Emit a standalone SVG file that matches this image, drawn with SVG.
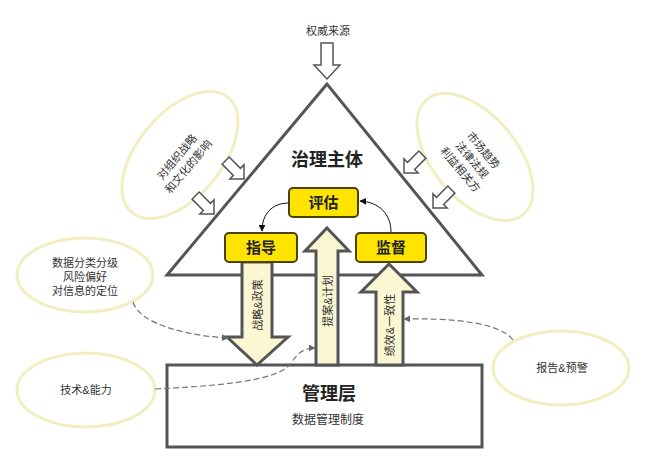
<svg xmlns="http://www.w3.org/2000/svg" width="645" height="472" viewBox="0 0 645 472">
<defs>
<style>
text{font-family:"Liberation Sans","Noto Sans CJK SC",sans-serif;fill:#333;text-anchor:middle;}
.sm{font-size:11px;}
.bx{fill:#FFE400;stroke:#4a4300;stroke-width:2;}
.bt{font-size:15px;font-weight:bold;fill:#222;}
.big{font-size:18px;font-weight:bold;fill:#222;}
.frame{fill:#fff;stroke:#555;stroke-width:3;}
.fat{fill:#FBF7D2;stroke:#555;stroke-width:3;stroke-linejoin:miter;}
.hol{fill:#fff;stroke:#555;stroke-width:1.5;}
.ell{fill:none;stroke:#F3EEC2;stroke-width:3;}
.dash{fill:none;stroke:#777;stroke-width:1.2;stroke-dasharray:6 3;}
.cur{fill:none;stroke:#111;stroke-width:1;}
</style>
<marker id="ah" viewBox="0 0 10 10" refX="9" refY="5" markerWidth="7" markerHeight="7" orient="auto" markerUnits="userSpaceOnUse">
<path d="M0,0 L10,5 L0,10 Z" fill="#111"/>
</marker>
<marker id="ahg" viewBox="0 0 10 10" refX="9" refY="5" markerWidth="7" markerHeight="7" orient="auto" markerUnits="userSpaceOnUse">
<path d="M0,0 L10,5 L0,10 Z" fill="#666"/>
</marker>
<path id="sarrow" d="M0,0 L10,-10 L5,-10 L5,-26 L-5,-26 L-5,-10 L-10,-10 Z"/>
</defs>
<rect width="645" height="472" fill="#fff"/>

<g id="ellipses">
<g id="e-culture"><ellipse class="ell" cx="180" cy="155" rx="75" ry="42" transform="rotate(-50 180 155)"/>
<text class="sm" transform="translate(183 162) rotate(-50)"><tspan x="0" y="-4">对组织战略</tspan><tspan x="0" y="11">和文化的影响</tspan></text></g>
<g id="e-market"><ellipse class="ell" cx="475" cy="157" rx="75" ry="42" transform="rotate(50 475 157)"/>
<text class="sm" transform="translate(472 160) rotate(50)"><tspan x="0" y="-11">市场趋势</tspan><tspan x="0" y="4">法律法规</tspan><tspan x="0" y="19">利益相关方</tspan></text></g>
<g id="e-data"><ellipse class="ell" cx="85" cy="275" rx="68" ry="37"/>
<text class="sm"><tspan x="85" y="267">数据分类分级</tspan><tspan x="85" y="281">风险偏好</tspan><tspan x="85" y="295">对信息的定位</tspan></text></g>
<g id="e-tech"><ellipse class="ell" cx="86" cy="390" rx="69" ry="37"/>
<text class="sm" x="86" y="394">技术&amp;能力</text></g>
<g id="e-report"><ellipse class="ell" cx="561" cy="368" rx="68" ry="37"/>
<text class="sm" x="562" y="372">报告&amp;预警</text></g>
</g>

<g id="authority">
<text class="sm" x="328" y="35">权威来源</text>
<path class="hol" d="M321,43 L333,43 L333,65 L340,65 L327,79 L314,65 L321,65 Z"/>
</g>

<g id="governance">
<polygon class="frame" points="327,84 167,275 482,275"/>
<text class="big" x="327" y="166">治理主体</text>
</g>

<g id="side-arrows">
<use href="#sarrow" class="hol" transform="translate(244 179) rotate(-45)"/>
<use href="#sarrow" class="hol" transform="translate(214 214) rotate(-45)"/>
<use href="#sarrow" class="hol" transform="translate(404 173) rotate(45)"/>
<use href="#sarrow" class="hol" transform="translate(433 208) rotate(45)"/>
</g>

<g id="management">
<rect class="frame" x="167" y="365" width="315" height="82"/>
<text class="big" x="329" y="400">管理层</text>
<text x="328" y="424" style="font-size:12px">数据管理制度</text>
</g>

<g id="flow-arrows">
<g id="a-strategy"><path class="fat" d="M242,262 L272,262 L272,337 L288,337 L257,365 L227,337 L242,337 Z"/>
<text class="sm" transform="translate(258 305) rotate(-90)" y="4">战略&amp;政策</text></g>
<g id="a-proposal"><path class="fat" d="M327,228 L349,251 L338,251 L338,365 L316,365 L316,251 L305,251 Z"/>
<text class="sm" transform="translate(328 301) rotate(-90)" y="4">提案&amp;计划</text></g>
<g id="a-perf"><path class="fat" d="M389,264 L417,292 L403,292 L403,365 L376,365 L376,292 L361,292 Z"/>
<text class="sm" transform="translate(390 325) rotate(-90)" y="4">绩效&amp;一致性</text></g>
</g>

<g id="eval"><rect class="bx" x="289" y="188" width="69" height="29" rx="4"/><text class="bt" x="323.5" y="208">评估</text></g>
<g id="direct"><rect class="bx" x="225" y="233" width="72" height="29" rx="4"/><text class="bt" x="261" y="253">指导</text></g>
<g id="monitor"><rect class="bx" x="356" y="233" width="70" height="29" rx="4"/><text class="bt" x="391" y="253">监督</text></g>

<g id="connectors">
<path class="cur" d="M289,203 C272,203 262,214 262,231" marker-end="url(#ah)"/>
<path class="cur" d="M391,232 C391,214 379,202 360,201" marker-end="url(#ah)"/>
<path class="dash" d="M133,302 C140,325 190,336 228,338" marker-end="url(#ahg)"/>
<path class="dash" d="M155,389 C240,385 282,378 292,362 C298,352 305,348 315,348" marker-end="url(#ahg)"/>
<path class="dash" d="M513,340 C500,322 450,318 404,319" marker-end="url(#ahg)"/>
</g>
</svg>
